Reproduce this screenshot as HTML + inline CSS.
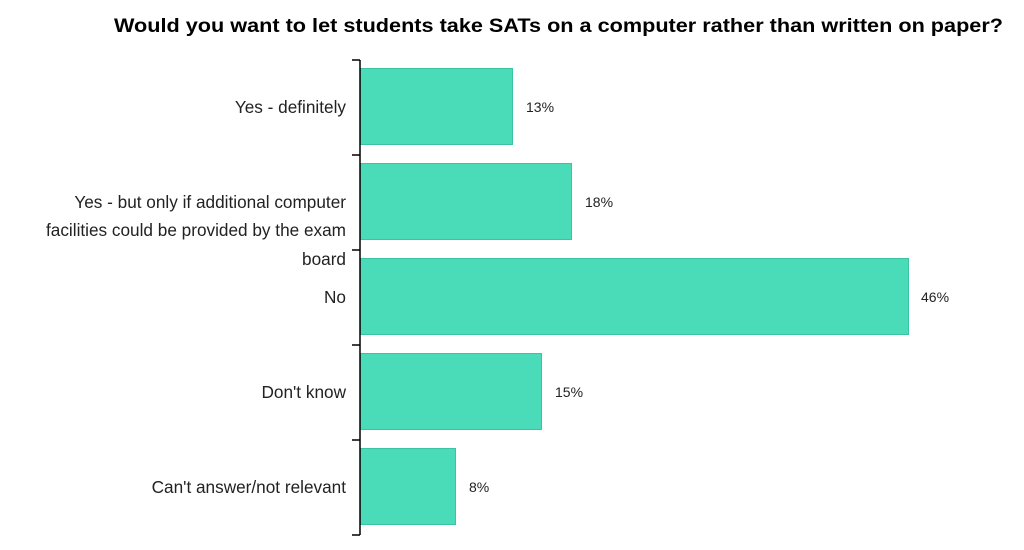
<!DOCTYPE html>
<html><head><meta charset="utf-8"><style>
html,body{margin:0;padding:0;background:#fff;}
svg{display:block;font-family:"Liberation Sans",Arial,sans-serif;}
</style></head><body>
<svg width="1024" height="550" xmlns="http://www.w3.org/2000/svg">
<text x="114" y="32" font-size="19" font-weight="bold" fill="#000" textLength="889" lengthAdjust="spacingAndGlyphs">Would you want to let students take SATs on a computer rather than written on paper?</text>
<g fill="#4adbb8" stroke="#3cc4a2" stroke-width="1">
<rect x="360.5" y="68.5" width="152" height="76"/>
<rect x="360.5" y="163.5" width="211" height="76"/>
<rect x="360.5" y="258.5" width="548" height="76"/>
<rect x="360.5" y="353.5" width="181" height="76"/>
<rect x="360.5" y="448.5" width="95" height="76"/>
</g>
<g stroke="#000" stroke-width="1.5" fill="none">
<line x1="360" y1="60" x2="360" y2="535"/>
<line x1="352" y1="60" x2="360" y2="60"/>
<line x1="352" y1="155" x2="360" y2="155"/>
<line x1="352" y1="250" x2="360" y2="250"/>
<line x1="352" y1="345" x2="360" y2="345"/>
<line x1="352" y1="440" x2="360" y2="440"/>
<line x1="352" y1="535" x2="360" y2="535"/>
</g>
<g font-size="17.2" fill="#222" text-anchor="end">
<text x="346" y="113">Yes - definitely</text>
<text x="346" y="208">Yes - but only if additional computer</text>
<text x="346" y="236">facilities could be provided by the exam</text>
<text x="346" y="265">board</text>
<text x="346" y="303">No</text>
<text x="346" y="398">Don't know</text>
<text x="346" y="493">Can't answer/not relevant</text>
</g>
<g font-size="14" fill="#222">
<text x="526" y="112">13%</text>
<text x="585" y="207">18%</text>
<text x="921" y="302">46%</text>
<text x="555" y="397">15%</text>
<text x="469" y="492">8%</text>
</g>
</svg>
</body></html>
